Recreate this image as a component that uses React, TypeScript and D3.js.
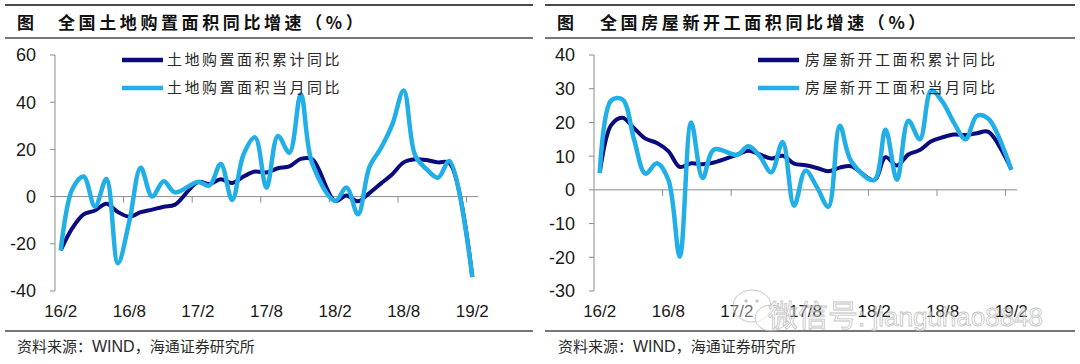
import React from "react";
import * as d3 from "d3";

// months present in the data (Jan is merged into Feb, so it is missing)
const months = [
  "2016-02", "2016-03", "2016-04", "2016-05", "2016-06", "2016-07", "2016-08", "2016-09", "2016-10", "2016-11", "2016-12",
  "2017-02", "2017-03", "2017-04", "2017-05", "2017-06", "2017-07", "2017-08", "2017-09", "2017-10", "2017-11", "2017-12",
  "2018-02", "2018-03", "2018-04", "2018-05", "2018-06", "2018-07", "2018-08", "2018-09", "2018-10", "2018-11", "2018-12",
  "2019-02",
];

// 土地购置面积
const landCum = [
  -22.8, -13.5, -7.5, -5.9, -3.0, -6.5, -8.5, -6.6, -5.5, -4.3, -3.4,
  6.2, 5.3, 7.3, 5.8, 8.5, 10.6, 10.2, 12.0, 12.8, 16.0, 15.8,
  -1.8, 0.5, -2.0, 1.5, 5.5, 9.5, 14.5, 15.8, 15.5, 14.5, 14.2,
  -34.1,
];
const landMon = [
  -22.8, 3.0, 8.5, -4.2, 7.5, -28.2, -10.5, 12.2, 0.0, 6.5, 1.8,
  6.2, 4.7, 13.8, -1.4, 18.0, 25.1, 3.8, 25.7, 18.6, 43.4, 14.0,
  -1.8, 3.8, -7.5, 12.5, 20.5, 30.5, 45.0, 17.5, 11.6, 8.0, 15.1,
  -34.1,
];

// 房屋新开工面积
const startCum = [
  5.0, 19.2, 21.4, 18.3, 15.2, 13.9, 11.5, 6.8, 7.9, 7.6, 8.1,
  10.4, 11.6, 10.5, 9.3, 10.1, 7.8, 7.3, 6.5, 5.5, 6.6, 7.0,
  2.9, 9.7, 7.2, 10.5, 11.8, 14.4, 15.6, 16.4, 16.3, 16.8, 17.2,
  6.0,
];
const startMon = [
  5.0, 26.5, 26.8, 15.0, 4.8, 7.9, 3.0, -19.8, 20.0, 3.5, 12.0,
  10.4, 12.9, 10.0, 5.2, 14.2, -4.7, 5.7, 0.8, -5.0, 19.0, 8.5,
  2.9, 17.8, 3.0, 20.5, 15.0, 29.5, 26.0, 19.8, 15.0, 22.0, 21.1,
  6.0,
];

const xLabels = ["16/2", "16/8", "17/2", "17/8", "18/2", "18/8", "19/2"];
const xLabelIdx = [0, 6, 12, 18, 24, 30, 36];
const landTicks = [-40, -20, 0, 20, 40, 60];
const startTicks = [-30, -20, -10, 0, 10, 20, 30, 40];

const NAVY = "#0a0c7e";
const SKY = "#22aee6";
const AXIS = "#8c8c8c";
const RULE = "#4a4a4a";
const CJK = "'Noto Sans CJK SC', 'Noto Sans', sans-serif";
const NUM = "'Liberation Sans', Arial, sans-serif";

const monthIdx = (m: string) => {
  const [y, mo] = m.split("-").map(Number);
  return (y - 2016) * 12 + (mo - 2);
};
const idx = months.map(monthIdx);

type PanelProps = {
  axisX: number;
  rule0: number;
  rule1: number;
  figX: number;
  titleX: number;
  title: string;
  yDomain: [number, number];
  yTicks: number[];
  cum: number[];
  mon: number[];
  names: [string, string];
  legLine: number;
  legText: number;
  footX: number;
};

function Panel(p: PanelProps) {
  const x = d3.scaleLinear().domain([-0.5, 36.5]).range([p.axisX, p.axisX + 423]);
  const y = d3.scaleLinear().domain(p.yDomain).range([291, 55]);
  const line = d3
    .line<number>()
    .x((_, i) => x(idx[i]))
    .y((d) => y(d))
    .curve(d3.curveCatmullRom.alpha(0.5));

  return (
    <g>
      {/* frame rules */}
      <line x1={p.rule0} x2={p.rule1} y1={5} y2={5} stroke={RULE} strokeWidth={2} />
      <line x1={p.rule0} x2={p.rule1} y1={38} y2={38} stroke={RULE} strokeWidth={1.5} />
      <line x1={p.rule0} x2={p.rule1} y1={331} y2={331} stroke={RULE} strokeWidth={1.5} />

      <text x={p.figX} y={29} fontFamily={CJK} fontWeight={700} fontSize={17} fill="#111">图</text>
      <text x={p.titleX} y={29} fontFamily={CJK} fontWeight={700} fontSize={17} fill="#111"
        style={{ letterSpacing: "3.6px" }}>{p.title}</text>

      {/* y axis */}
      <line x1={p.axisX} x2={p.axisX} y1={y(p.yDomain[1])} y2={y(p.yDomain[0])} stroke={AXIS} strokeWidth={1} />
      {p.yTicks.map((t) => (
        <g key={t}>
          <line x1={p.axisX - 5} x2={p.axisX} y1={y(t)} y2={y(t)} stroke={AXIS} strokeWidth={1} />
          <text x={p.axisX - 19} y={y(t)} dy="0.36em" textAnchor="end" fontFamily={NUM} fontSize={18} fill="#1a1a1a">
            {t}
          </text>
        </g>
      ))}

      {/* zero line with month ticks */}
      <line x1={x(-0.5)} x2={x(36.5)} y1={y(0)} y2={y(0)} stroke={AXIS} strokeWidth={1} />
      {xLabelIdx.slice(1).map((t) => (
        <line key={t} x1={x(t - 0.5)} x2={x(t - 0.5)} y1={y(0)} y2={y(0) + 6} stroke={AXIS} strokeWidth={1} />
      ))}
      {xLabelIdx.map((t, i) => (
        <text key={t} x={x(t)} y={317} textAnchor="middle" fontFamily={NUM} fontSize={17} fill="#1a1a1a">
          {xLabels[i]}
        </text>
      ))}

      <path d={line(p.cum) || ""} fill="none" stroke={NAVY} strokeWidth={4} strokeLinejoin="round" />
      <path d={line(p.mon) || ""} fill="none" stroke={SKY} strokeWidth={4.5} strokeLinejoin="round" />

      {/* legend */}
      {p.names.map((n, i) => (
        <g key={n}>
          <line x1={p.legLine} x2={p.legLine + 41} y1={60 + i * 28} y2={60 + i * 28}
            stroke={i === 0 ? NAVY : SKY} strokeWidth={4.5} />
          <text x={p.legText} y={60 + i * 28} dy="0.36em" fontFamily={CJK} fontSize={15} fill="#2a2a2a"
            style={{ letterSpacing: "2.5px" }}>{n}</text>
        </g>
      ))}

      <text x={p.footX} y={352} fontFamily={CJK} fontSize={15} fill="#2a2a2a">
        资料来源：<tspan fontFamily={NUM} fontSize={16}>WIND</tspan>，海通证券研究所
      </text>
    </g>
  );
}

function Watermark() {
  return (
    <g opacity={0.75}>
      <ellipse cx={752} cy={306} rx={19} ry={16} fill="#fff" fillOpacity={0.5} stroke="#b5b5b5" strokeWidth={1} />
      <ellipse cx={771} cy={318} rx={16} ry={13} fill="#fff" fillOpacity={0.6} stroke="#b5b5b5" strokeWidth={1} />
      <circle cx={746} cy={301} r={1.8} fill="#b5b5b5" />
      <circle cx={757} cy={301} r={1.8} fill="#b5b5b5" />
      <text x={768} y={326} fontFamily={CJK} fontSize={30} fill="#fff" fillOpacity={0.6} stroke="#b0b0b0" strokeWidth={0.8}>
        微信号
        <tspan fontFamily={NUM} fontSize={26}>: jianguhao8848</tspan>
      </text>
    </g>
  );
}

export default function App() {
  return (
    <svg width={1080} height={364} style={{ position: "absolute", left: 0, top: 0, background: "#fff" }}>
      <rect width={1080} height={364} fill="#fff" />
      <Panel
        axisX={55} rule0={5} rule1={533} figX={17} titleX={58}
        title="全国土地购置面积同比增速（%）"
        yDomain={[-40, 60]} yTicks={landTicks} cum={landCum} mon={landMon}
        names={["土地购置面积累计同比", "土地购置面积当月同比"]}
        legLine={122} legText={167} footX={17}
      />
      <Panel
        axisX={594} rule0={545} rule1={1075} figX={557} titleX={600}
        title="全国房屋新开工面积同比增速（%）"
        yDomain={[-30, 40]} yTicks={startTicks} cum={startCum} mon={startMon}
        names={["房屋新开工面积累计同比", "房屋新开工面积当月同比"]}
        legLine={758} legText={805} footX={558}
      />
      <Watermark />
    </svg>
  );
}
